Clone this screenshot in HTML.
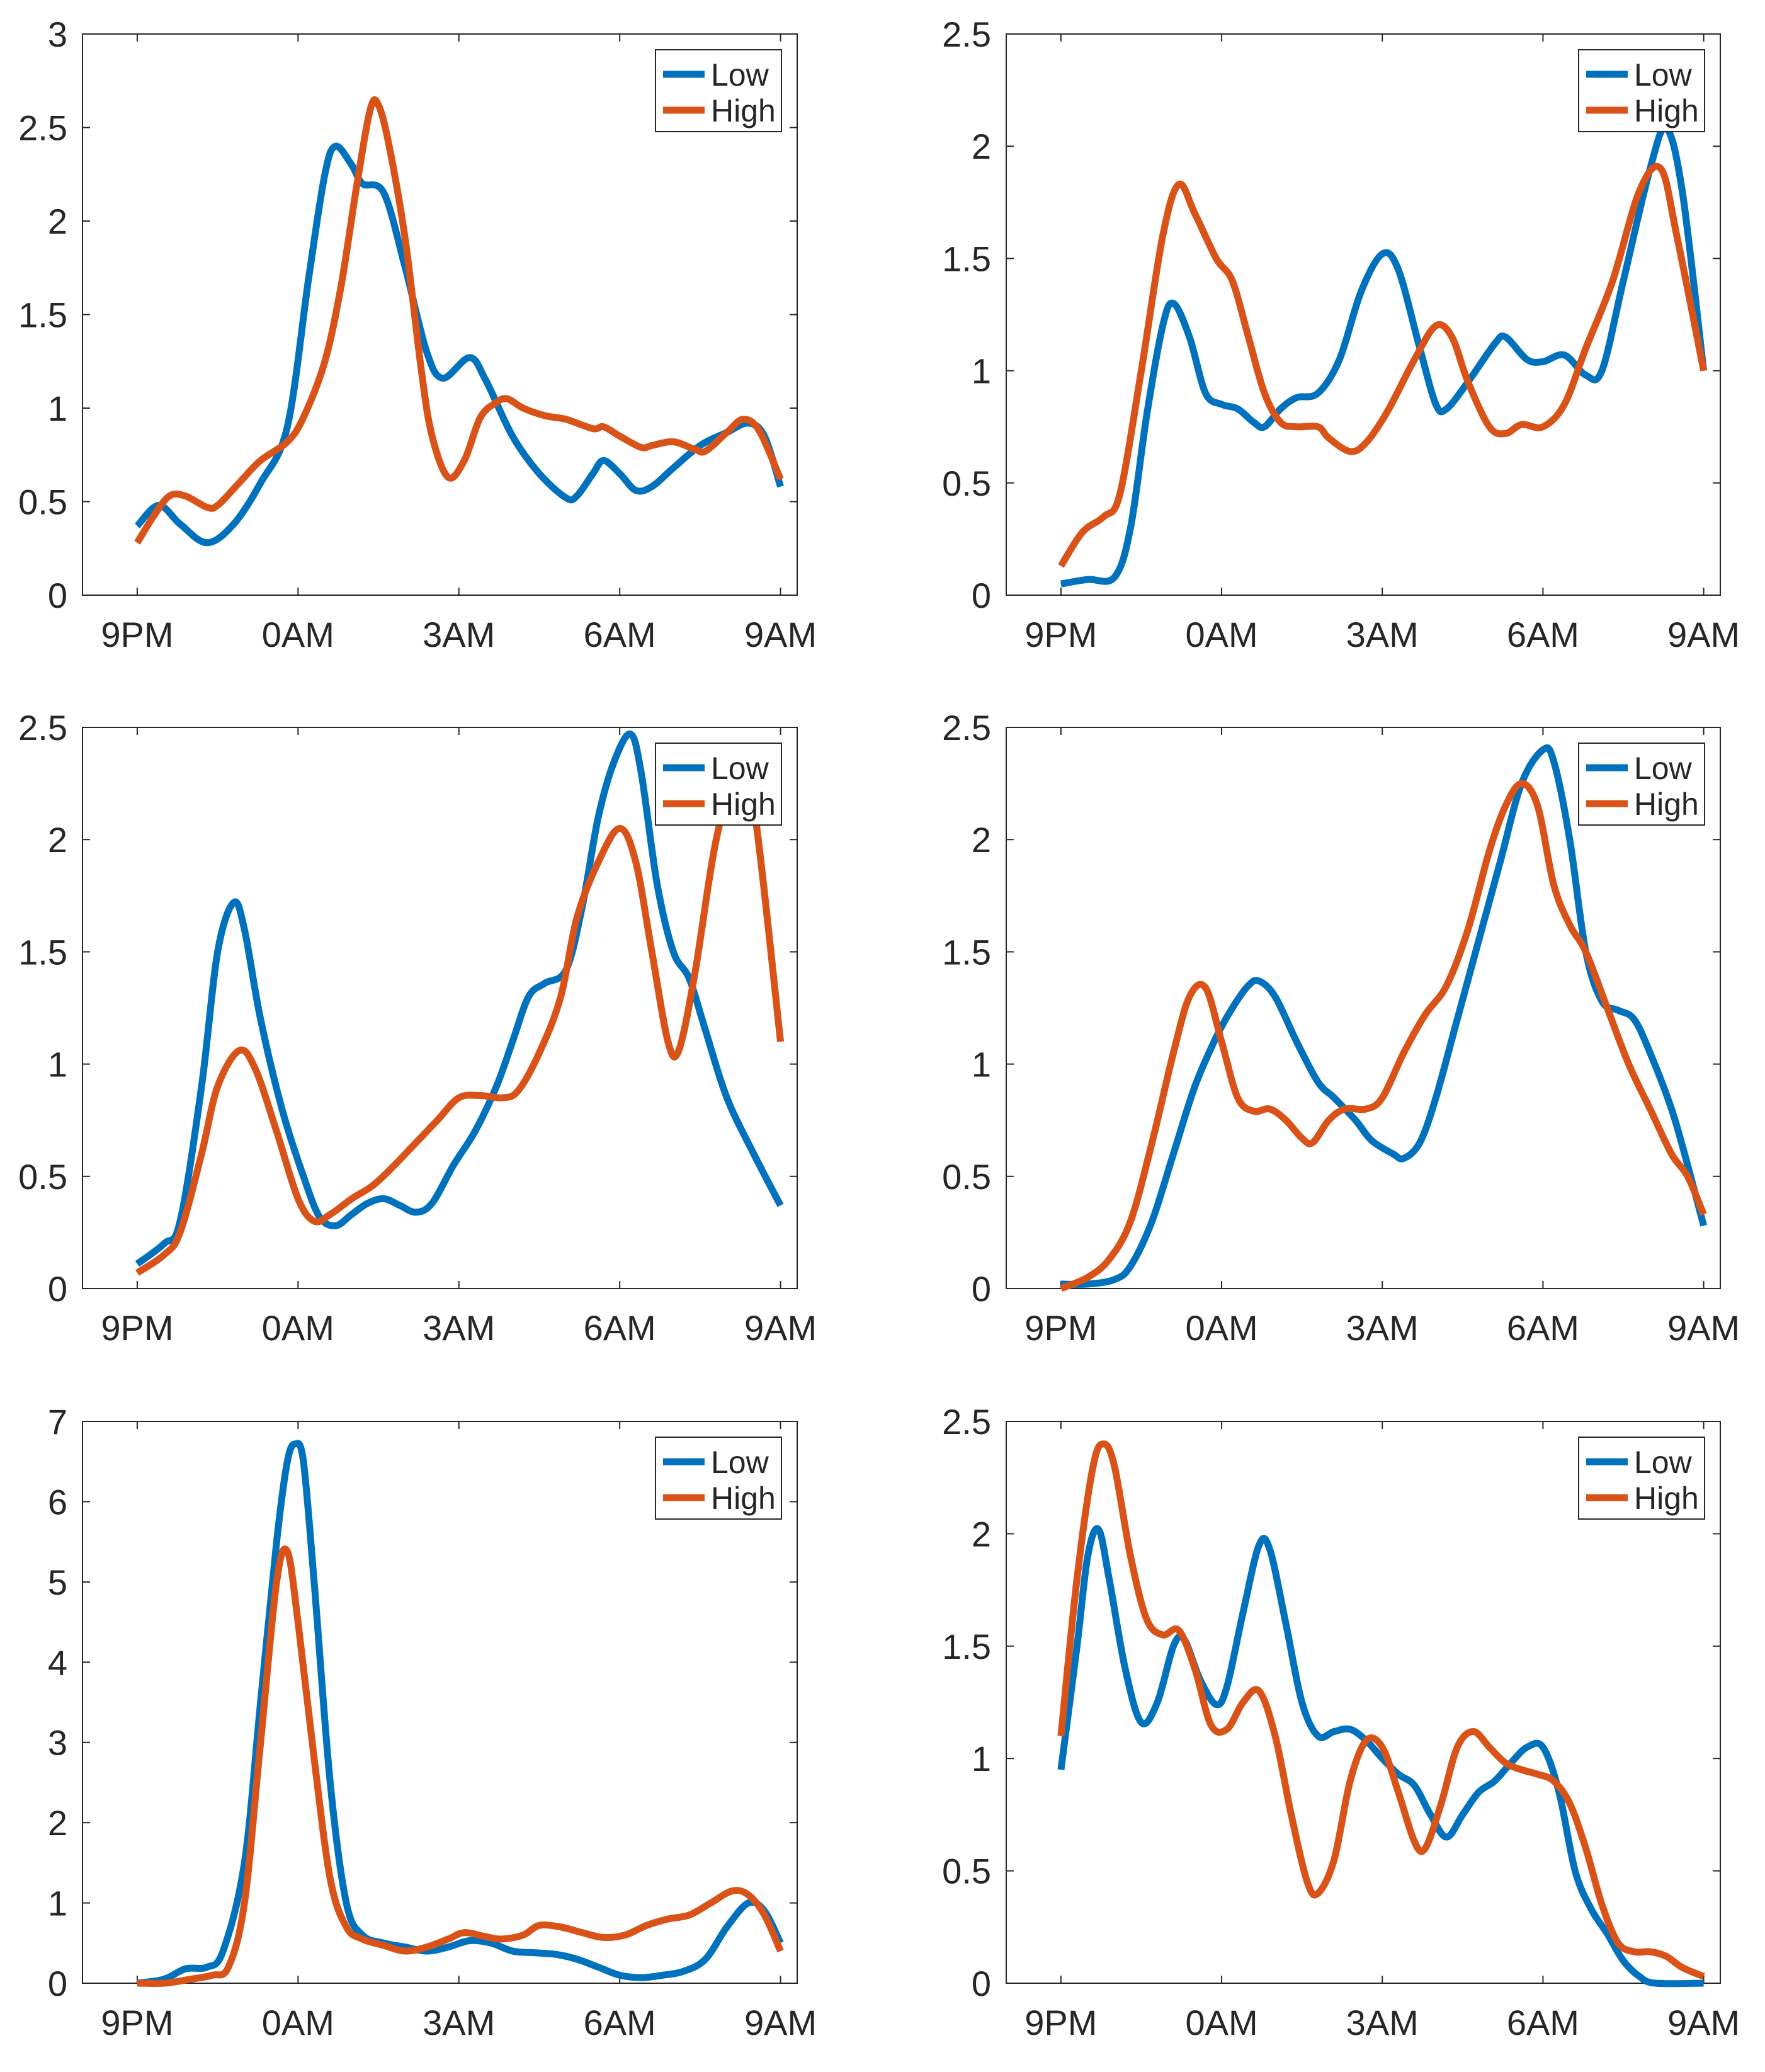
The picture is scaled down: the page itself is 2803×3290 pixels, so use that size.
<!DOCTYPE html>
<html><head><meta charset="utf-8"><style>
html,body{margin:0;padding:0;background:#fff;}
svg{display:block;}
text{font-family:"Liberation Sans",sans-serif;fill:#262626;}
</style></head>
<body>
<svg id="fig" width="2803" height="3290" viewBox="0 0 2803 3290" xmlns="http://www.w3.org/2000/svg"></svg>
<script>
// Times in hours after 9PM
const tickLabels = ["9PM","0AM","3AM","6AM","9AM"];
const p1Yticks = [0,0.5,1,1.5,2,2.5,3];
const p1LowT = [0,0.4,0.8,1.3,1.8,2.3,2.8,3.2,3.5,3.7,4.0,4.2,4.6,5.0,5.4,5.7,6.2,6.5,7.0,7.5,8.0,8.2,8.5,8.7,9.0,9.3,9.6,10,10.5,11,11.4,11.7,12];
const p1LowV = [0.37,0.48,0.38,0.28,0.38,0.6,0.9,1.7,2.25,2.4,2.3,2.2,2.15,1.75,1.3,1.16,1.27,1.15,0.85,0.65,0.52,0.53,0.65,0.72,0.65,0.56,0.58,0.68,0.8,0.87,0.92,0.85,0.58];
const p1HighT = [0,0.3,0.6,0.9,1.3,1.5,1.9,2.3,2.8,3.1,3.5,3.8,4.1,4.35,4.5,4.7,5.0,5.3,5.5,5.8,6.1,6.4,6.7,6.9,7.2,7.6,8.0,8.5,8.7,9.0,9.4,9.6,10,10.4,10.6,11,11.3,11.6,12];
const p1HighV = [0.28,0.42,0.53,0.53,0.47,0.48,0.6,0.72,0.82,0.95,1.25,1.65,2.2,2.6,2.62,2.4,1.9,1.2,0.85,0.63,0.72,0.95,1.03,1.05,1.0,0.96,0.94,0.89,0.9,0.85,0.79,0.8,0.82,0.78,0.77,0.87,0.94,0.88,0.62];

const p2Yticks = [0,0.5,1,1.5,2,2.5];
const p2LowT = [0,0.5,1.0,1.3,1.6,1.9,2.1,2.4,2.7,3.0,3.3,3.6,3.8,4.1,4.4,4.8,5.2,5.6,6.0,6.3,6.7,7.0,7.2,7.6,8.1,8.3,8.7,9.0,9.4,9.8,10.1,10.5,11.0,11.3,11.6,12];
const p2LowV = [0.05,0.07,0.08,0.3,0.8,1.2,1.3,1.15,0.9,0.85,0.83,0.77,0.75,0.83,0.88,0.9,1.05,1.35,1.52,1.45,1.1,0.85,0.83,0.95,1.12,1.15,1.05,1.04,1.07,0.98,1.0,1.4,1.9,2.08,1.8,1.0];
const p2HighT = [0,0.4,0.8,1.1,1.5,1.9,2.2,2.5,2.9,3.2,3.5,3.8,4.1,4.4,4.8,5.0,5.4,5.7,6.1,6.6,7.0,7.3,7.6,8.0,8.3,8.6,9.0,9.4,9.8,10.3,10.8,11.2,11.5,12];
const p2HighV = [0.13,0.28,0.35,0.45,1.0,1.6,1.83,1.7,1.5,1.4,1.15,0.9,0.77,0.75,0.75,0.7,0.64,0.68,0.82,1.05,1.2,1.15,0.95,0.75,0.72,0.76,0.75,0.85,1.1,1.4,1.8,1.9,1.6,1.0];

const p3Yticks = [0,0.5,1,1.5,2,2.5];
const p3LowT = [0,0.5,0.8,1.2,1.5,1.8,2.0,2.3,2.7,3.1,3.4,3.7,4.0,4.3,4.6,4.9,5.2,5.5,5.9,6.3,6.7,7.0,7.3,7.6,8.0,8.3,8.6,8.9,9.2,9.4,9.7,10.0,10.3,10.6,11,11.5,12];
const p3LowV = [0.11,0.2,0.3,0.9,1.5,1.72,1.6,1.2,0.8,0.5,0.32,0.28,0.33,0.38,0.4,0.37,0.34,0.38,0.55,0.7,0.9,1.1,1.3,1.36,1.42,1.7,2.1,2.35,2.47,2.3,1.8,1.5,1.38,1.15,0.85,0.6,0.37];
const p3HighT = [0,0.5,0.8,1.2,1.5,1.9,2.2,2.6,3.0,3.3,3.6,4.0,4.4,4.8,5.2,5.6,6.0,6.4,6.8,7.1,7.5,7.9,8.2,8.6,9.0,9.3,9.6,9.9,10.1,10.4,10.8,11.2,11.5,12];
const p3HighV = [0.07,0.15,0.25,0.6,0.9,1.06,0.98,0.7,0.4,0.3,0.33,0.4,0.46,0.55,0.65,0.75,0.85,0.86,0.85,0.88,1.05,1.3,1.65,1.9,2.05,1.9,1.5,1.1,1.06,1.4,2.0,2.3,2.15,1.1];

const p4Yticks = [0,0.5,1,1.5,2,2.5];
const p4LowT = [0,0.5,1.0,1.3,1.7,2.1,2.5,2.9,3.2,3.5,3.7,4.0,4.4,4.8,5.1,5.5,5.8,6.2,6.4,6.7,7.0,7.4,7.8,8.2,8.6,9.0,9.2,9.5,9.8,10.1,10.4,10.7,11.0,11.4,11.7,12];
const p4LowV = [0.02,0.02,0.04,0.1,0.3,0.6,0.9,1.12,1.25,1.35,1.37,1.3,1.1,0.92,0.85,0.75,0.66,0.6,0.58,0.65,0.85,1.2,1.55,1.9,2.25,2.4,2.35,2.0,1.5,1.28,1.24,1.2,1.05,0.8,0.55,0.28];
const p4HighT = [0,0.5,0.9,1.3,1.7,2.1,2.4,2.7,3.0,3.3,3.6,3.9,4.2,4.5,4.7,5.0,5.3,5.7,6.0,6.4,6.8,7.2,7.6,8.0,8.3,8.6,8.9,9.2,9.5,9.8,10.2,10.6,11.0,11.4,11.7,12];
const p4HighV = [0.0,0.05,0.13,0.3,0.65,1.05,1.3,1.34,1.1,0.85,0.79,0.8,0.75,0.67,0.65,0.75,0.8,0.8,0.85,1.05,1.22,1.35,1.6,1.95,2.15,2.25,2.15,1.8,1.62,1.5,1.25,1.0,0.8,0.6,0.5,0.33];

const p5Yticks = [0,1,2,3,4,5,6,7];
const p5LowT = [0,0.5,0.9,1.3,1.6,2.0,2.3,2.6,2.8,2.95,3.1,3.3,3.6,3.9,4.2,4.6,5.0,5.4,5.8,6.2,6.6,7.0,7.4,7.8,8.2,8.6,9.0,9.4,9.8,10.2,10.6,11.0,11.4,11.7,12];
const p5LowV = [0.0,0.05,0.18,0.2,0.4,1.5,3.5,5.5,6.5,6.72,6.5,5.0,2.5,1.0,0.6,0.5,0.45,0.4,0.45,0.53,0.5,0.4,0.38,0.36,0.3,0.2,0.1,0.07,0.1,0.15,0.3,0.7,1.0,0.9,0.5];
const p5HighT = [0,0.5,1.0,1.4,1.7,2.0,2.3,2.6,2.8,3.0,3.3,3.6,3.9,4.2,4.6,5.0,5.4,5.8,6.1,6.5,6.8,7.2,7.5,7.9,8.3,8.7,9.1,9.5,9.9,10.3,10.7,11.1,11.4,11.7,12];
const p5HighV = [0.0,0.0,0.05,0.1,0.2,1.0,3.0,5.0,5.38,4.5,2.8,1.3,0.7,0.55,0.47,0.4,0.45,0.55,0.63,0.58,0.55,0.6,0.72,0.7,0.63,0.57,0.6,0.72,0.8,0.85,1.0,1.15,1.1,0.85,0.4];

const p6Yticks = [0,0.5,1,1.5,2,2.5];
const p6LowT = [0,0.3,0.5,0.7,0.9,1.2,1.5,1.8,2.1,2.3,2.6,2.9,3.1,3.4,3.7,3.9,4.2,4.5,4.8,5.1,5.4,5.7,6.0,6.3,6.6,6.9,7.2,7.5,7.8,8.1,8.4,8.7,9.0,9.3,9.6,9.9,10.2,10.5,10.8,11.1,12];
const p6LowV = [0.95,1.5,1.9,2.02,1.8,1.4,1.16,1.25,1.5,1.53,1.35,1.24,1.32,1.65,1.95,1.93,1.6,1.25,1.1,1.12,1.13,1.08,1.0,0.93,0.88,0.75,0.65,0.75,0.85,0.9,0.98,1.05,1.05,0.85,0.5,0.33,0.22,0.1,0.03,0.0,0.0];
const p6HighT = [0,0.3,0.6,0.8,1.0,1.3,1.6,1.9,2.2,2.5,2.8,3.1,3.4,3.7,4.0,4.3,4.6,4.8,5.1,5.4,5.7,6.0,6.3,6.6,6.8,7.1,7.4,7.7,8.0,8.3,8.6,8.9,9.2,9.5,9.8,10.1,10.4,10.7,11.0,11.3,11.6,12];
const p6HighV = [1.1,1.8,2.3,2.4,2.3,1.9,1.62,1.55,1.57,1.4,1.15,1.13,1.25,1.3,1.1,0.75,0.45,0.4,0.55,0.9,1.08,1.05,0.85,0.63,0.6,0.8,1.05,1.12,1.05,0.98,0.95,0.93,0.9,0.8,0.6,0.35,0.18,0.14,0.14,0.12,0.07,0.03];

const panels = [
 {name:'panel-1', left:131,right:1266,top:54,bottom:945, ymax:3, yt:p1Yticks, lt:p1LowT, lv:p1LowV, ht:p1HighT, hv:p1HighV},
 {name:'panel-2', left:1598,right:2732,top:54,bottom:945, ymax:2.5, yt:p2Yticks, lt:p2LowT, lv:p2LowV, ht:p2HighT, hv:p2HighV},
 {name:'panel-3', left:131,right:1266,top:1155,bottom:2046, ymax:2.5, yt:p3Yticks, lt:p3LowT, lv:p3LowV, ht:p3HighT, hv:p3HighV},
 {name:'panel-4', left:1598,right:2732,top:1155,bottom:2046, ymax:2.5, yt:p4Yticks, lt:p4LowT, lv:p4LowV, ht:p4HighT, hv:p4HighV},
 {name:'panel-5', left:131,right:1266,top:2257,bottom:3149, ymax:7, yt:p5Yticks, lt:p5LowT, lv:p5LowV, ht:p5HighT, hv:p5HighV},
 {name:'panel-6', left:1598,right:2732,top:2257,bottom:3149, ymax:2.5, yt:p6Yticks, lt:p6LowT, lv:p6LowV, ht:p6HighT, hv:p6HighV}
];
const NS='http://www.w3.org/2000/svg';
const svg=document.getElementById('fig');
function mk(tag,attrs,parent){const e=document.createElementNS(NS,tag);for(const k in attrs)e.setAttribute(k,attrs[k]);parent.appendChild(e);return e;}
function smooth(pts){
  let d='M'+pts[0][0].toFixed(1)+','+pts[0][1].toFixed(1);
  for(let i=0;i<pts.length-1;i++){
    const p0=pts[i-1]||pts[i],p1=pts[i],p2=pts[i+1],p3=pts[i+2]||pts[i+1];
    const c1=[p1[0]+(p2[0]-p0[0])/6,p1[1]+(p2[1]-p0[1])/6];
    const c2=[p2[0]-(p3[0]-p1[0])/6,p2[1]-(p3[1]-p1[1])/6];
    d+='C'+c1[0].toFixed(1)+','+c1[1].toFixed(1)+' '+c2[0].toFixed(1)+','+c2[1].toFixed(1)+' '+p2[0].toFixed(1)+','+p2[1].toFixed(1);
  }
  return d;
}
panels.forEach(p=>{
  const g=mk('g',{},svg);
  
  
  const w=p.right-p.left;
  const x0=p.left+w*0.0766, x1=p.left+w*0.9767;
  const xs=t=>x0+(x1-x0)*t/12;
  const ys=v=>p.bottom-(p.bottom-p.top)*v/p.ymax;
  const frame=mk('rect',{x:p.left,y:p.top,width:w,height:p.bottom-p.top,fill:'none',stroke:'#262626','stroke-width':2},g);
  
  
  tickLabels.forEach((lab,i)=>{
    const x=xs(i*3);
    mk('line',{x1:x,x2:x,y1:p.bottom,y2:p.bottom-12,stroke:'#262626','stroke-width':2},g);
    mk('line',{x1:x,x2:x,y1:p.top,y2:p.top+12,stroke:'#262626','stroke-width':2},g);
    const t=mk('text',{x:x,y:p.bottom+82,'text-anchor':'middle','font-size':56},g);
    t.textContent=lab;
    
    
  });
  p.yt.forEach(v=>{
    const y=ys(v);
    mk('line',{x1:p.left,x2:p.left+12,y1:y,y2:y,stroke:'#262626','stroke-width':2},g);
    mk('line',{x1:p.right,x2:p.right-12,y1:y,y2:y,stroke:'#262626','stroke-width':2},g);
    const t=mk('text',{x:p.left-24,y:y+20,'text-anchor':'end','font-size':56},g);
    t.textContent=String(v);
    
    
  });
  const lo=mk('path',{d:smooth(p.lt.map((t,i)=>[xs(t),ys(p.lv[i])])),fill:'none',stroke:'#0072BD','stroke-width':11,'stroke-linejoin':'round'},g);
  
  
  const hi=mk('path',{d:smooth(p.ht.map((t,i)=>[xs(t),ys(p.hv[i])])),fill:'none',stroke:'#D95319','stroke-width':11,'stroke-linejoin':'round'},g);
  
  
  const lg=mk('g',{},g);
  
  
  const lx=p.right-225, ly=p.top+25;
  mk('rect',{x:lx,y:ly,width:200,height:130,fill:'#fff',stroke:'#262626','stroke-width':2},lg);
  mk('line',{x1:lx+12,x2:lx+78,y1:ly+39,y2:ly+39,stroke:'#0072BD','stroke-width':11},lg);
  mk('line',{x1:lx+12,x2:lx+78,y1:ly+96,y2:ly+96,stroke:'#D95319','stroke-width':11},lg);
  const t1=mk('text',{x:lx+88,y:ly+57,'font-size':50},lg); t1.textContent='Low';
  
  
  const t2=mk('text',{x:lx+88,y:ly+114,'font-size':50},lg); t2.textContent='High';
  
  
});
</script>
</body></html>
